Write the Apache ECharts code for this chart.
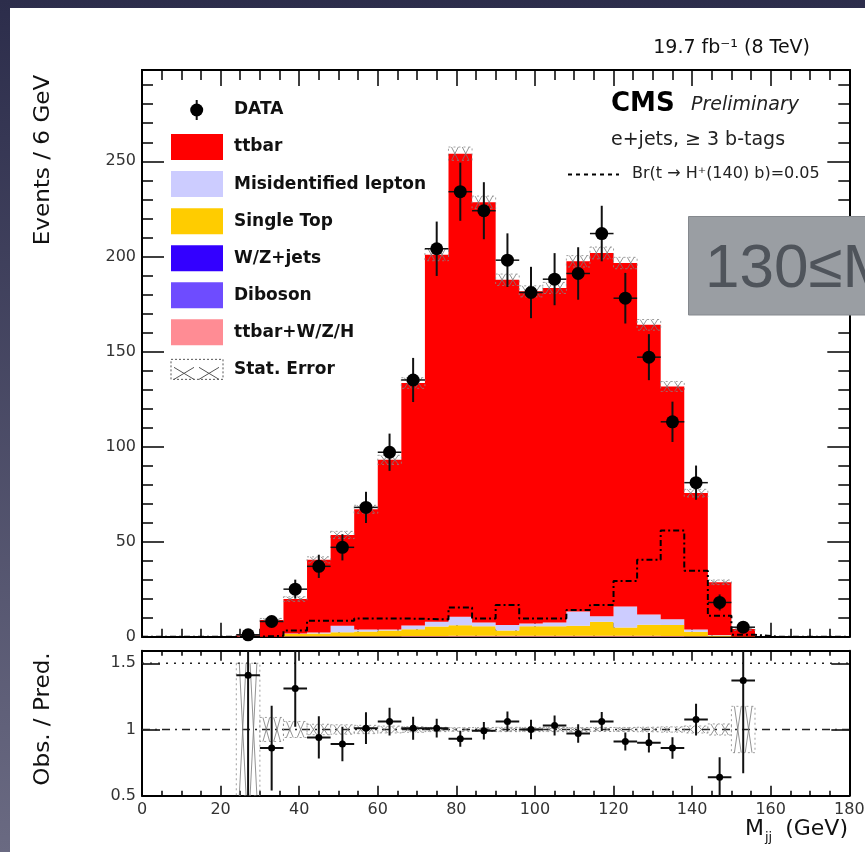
<!DOCTYPE html>
<html>
<head>
<meta charset="utf-8">
<title>Mjj, e+jets, >=3 b-tags</title>
<script src="https://cdn.jsdelivr.net/npm/echarts@6/dist/echarts.min.js"></script>
<style>
  html, body { margin: 0; padding: 0; }
  body { width: 865px; height: 852px; overflow: hidden; background: linear-gradient(#2c2d4b, #6a6a82); position: relative; }
  #panel { position: absolute; left: 10px; top: 8px; width: 855px; height: 844px; background: #fff; }
  #chart { position: absolute; left: 0; top: 0; width: 865px; height: 852px; }
</style>
</head>
<body>
<div id="panel"></div>
<div id="chart"></div>
<script>
// ---- binning (6 GeV bins from 0 to 180 GeV) ----
const binLow = [0, 6, 12, 18, 24, 30, 36, 42, 48, 54, 60, 66, 72, 78, 84, 90, 96, 102, 108, 114, 120, 126, 132, 138, 144, 150, 156, 162, 168, 174];
const BIN_WIDTH = 6;

// ---- simulated backgrounds, events per bin ----
const ttbar       = [0, 0, 0, 0, 0.7, 8.8, 18.1, 38.2, 47.7, 63.2, 89.2, 127.5, 193.1, 243.5, 220.9, 181.6, 174.6, 175.9, 184.1, 191.1, 180.6, 152.3, 122.4, 71.7, 27.7, 3.9, 0, 0, 0, 0];
const misidLepton = [0, 0, 0, 0, 0, 0, 0.3, 0.5, 3.5, 1.0, 0.5, 2.0, 2.4, 4.5, 2.0, 2.8, 1.5, 2.0, 7.5, 2.8, 11.0, 5.4, 3.0, 1.2, 0.3, 0, 0, 0, 0, 0];
const singleTop   = [0, 0, 0, 0, 0, 0, 1.2, 1.5, 2.0, 2.5, 3.0, 3.5, 5.0, 5.5, 5.0, 2.8, 5.0, 5.0, 5.3, 7.4, 4.4, 5.8, 5.8, 2.3, 0.5, 0.1, 0, 0, 0, 0];
const wzJets      = [0, 0, 0, 0, 0, 0, 0, 0, 0, 0, 0, 0, 0, 0, 0, 0, 0, 0, 0, 0, 0, 0, 0, 0, 0, 0, 0, 0, 0, 0];
const diboson     = [0, 0, 0, 0, 0, 0, 0, 0, 0, 0, 0, 0, 0, 0, 0, 0, 0, 0, 0, 0, 0, 0, 0, 0, 0, 0, 0, 0, 0, 0];
const ttbarVH     = [0, 0, 0, 0, 0, 0, 0.2, 0.2, 0.3, 0.3, 0.3, 0.4, 0.4, 0.5, 0.5, 0.5, 0.5, 0.5, 0.5, 0.5, 0.5, 0.5, 0.4, 0.3, 0.1, 0, 0, 0, 0, 0];
const mcStatErr   = [0, 0, 0, 0, 0.35, 0.8, 1.2, 1.6, 1.9, 2.1, 2.4, 2.8, 3.2, 3.5, 3.3, 3.0, 2.9, 2.9, 3.0, 3.1, 3.0, 2.8, 2.6, 2.0, 1.2, 0.7, 0, 0, 0, 0];

// ---- signal hypothesis Br(t -> H+(140) b) = 0.05 ----
const signalBr005 = [0, 0, 0, 0, 0, 0.5, 3.2, 8.4, 8.4, 9.6, 9.6, 9.4, 9.1, 15.3, 9.6, 16.7, 9.6, 9.6, 14.0, 16.7, 29.3, 40.4, 55.8, 34.7, 11.0, 1.0, 0, 0, 0, 0];

// ---- observed data ----
const dataCounts = [null, null, null, null, 1, 8, 25, 37, 47, 68, 97, 135, 204, 234, 224, 198, 181, 188, 191, 212, 178, 147, 113, 81, 18, 5, null, null, null, null];
const dataErr    = [null, null, null, null, 1.0, 2.8, 5.0, 6.1, 6.9, 8.2, 9.8, 11.6, 14.3, 15.3, 15.0, 14.1, 13.5, 13.7, 13.8, 14.6, 13.3, 12.1, 10.6, 9.0, 4.2, 2.2, null, null, null, null];

// ---- observed / predicted ----
const ratio    = [null, null, null, null, 1.41, 0.86, 1.31, 0.94, 0.89, 1.01, 1.06, 1.01, 1.01, 0.93, 0.99, 1.06, 1.00, 1.03, 0.97, 1.06, 0.91, 0.90, 0.86, 1.075, 0.64, 1.37, null, null, null, null];
const ratioErr = [null, null, null, null, 1.4, 0.32, 0.29, 0.16, 0.13, 0.12, 0.105, 0.087, 0.071, 0.06, 0.066, 0.075, 0.074, 0.075, 0.07, 0.072, 0.068, 0.074, 0.081, 0.12, 0.15, 0.7, null, null, null, null];

// ---- axis tick labels ----
const xTickLabels      = [0, 20, 40, 60, 80, 100, 120, 140, 160, 180];
const eventsTickLabels = [0, 50, 100, 150, 200, 250];
const ratioTickLabels  = [0.5, 1, 1.5];

// ---- legend entries ----
const legendNames = ['DATA', 'ttbar', 'Misidentified lepton', 'Single Top', 'W/Z+jets', 'Diboson', 'ttbar+W/Z/H', 'Stat. Error'];

const COLORS = {
  ttbar: '#ff0000', misid: '#ccccff', singleTop: '#ffcc00',
  wz: '#3300ff', diboson: '#6e4cff', ttv: '#ff8c94'
};

// stacking order, bottom to top
const layers = [
  { vals: ttbarVH, color: COLORS.ttv },
  { vals: wzJets, color: COLORS.wz },
  { vals: diboson, color: COLORS.diboson },
  { vals: singleTop, color: COLORS.singleTop },
  { vals: misidLepton, color: COLORS.misid },
  { vals: ttbar, color: COLORS.ttbar }
];
const cumulative = [];
{
  let run = binLow.map(() => 0);
  layers.forEach(l => {
    const lower = run.slice();
    const upper = run.map((v, i) => v + l.vals[i]);
    cumulative.push({ lower, upper, color: l.color });
    run = upper;
  });
}
const mcTotal = cumulative[cumulative.length - 1].upper;

const FONT = 'DejaVu Sans';
const BLACK = '#000';

// ---- series ----
const series = [];

// stacked background histograms, each drawn as one step polygon
cumulative.forEach(layer => {
  series.push({
    type: 'custom', xAxisIndex: 0, yAxisIndex: 0, z: 2, silent: true,
    data: [[0, 0]],
    renderItem: (params, api) => {
      const top = [], bottom = [];
      binLow.forEach((x0, i) => {
        const x1 = x0 + BIN_WIDTH;
        top.push(api.coord([x0, layer.upper[i]]), api.coord([x1, layer.upper[i]]));
        bottom.push(api.coord([x0, layer.lower[i]]), api.coord([x1, layer.lower[i]]));
      });
      bottom.reverse();
      return { type: 'polygon', shape: { points: top.concat(bottom) }, style: { fill: layer.color } };
    }
  });
});

// MC statistical uncertainty boxes
function statBox(api, x0, x1, lo, hi) {
  const p0 = api.coord([x0, hi]);
  const p1 = api.coord([x1, lo]);
  const w = p1[0] - p0[0], h = p1[1] - p0[1];
  const mid = p0[0] + w / 2;
  const st = { stroke: '#777', lineWidth: 0.8, fill: null };
  return [
    { type: 'rect', shape: { x: p0[0], y: p0[1], width: w, height: h }, style: { stroke: '#888', lineWidth: 0.8, lineDash: [2, 3], fill: null } },
    { type: 'line', shape: { x1: p0[0] + 3, y1: p0[1], x2: mid - 2, y2: p1[1] }, style: st },
    { type: 'line', shape: { x1: mid - 2, y1: p0[1], x2: p0[0] + 3, y2: p1[1] }, style: st },
    { type: 'line', shape: { x1: mid + 2, y1: p0[1], x2: p1[0] - 3, y2: p1[1] }, style: st },
    { type: 'line', shape: { x1: p1[0] - 3, y1: p0[1], x2: mid + 2, y2: p1[1] }, style: st }
  ];
}
series.push({
  type: 'custom', xAxisIndex: 0, yAxisIndex: 0, z: 3, silent: true,
  data: binLow.map((x, i) => [x, mcTotal[i], mcStatErr[i]]).filter(d => d[1] > 0),
  renderItem: (params, api) => {
    const x0 = api.value(0), v = api.value(1), e = api.value(2);
    return { type: 'group', children: statBox(api, x0, x0 + BIN_WIDTH, Math.max(0, v - e), v + e) };
  }
});

// signal step histogram
series.push({
  type: 'line', xAxisIndex: 0, yAxisIndex: 0, z: 4, silent: true,
  step: 'end', symbol: 'none',
  lineStyle: { color: BLACK, width: 2, type: [6, 3, 2, 3] },
  data: binLow.map((x, i) => [x, signalBr005[i]]).concat([[180, 0]])
});

// data points with error bars (top panel)
series.push({
  type: 'custom', xAxisIndex: 0, yAxisIndex: 0, z: 5, silent: true,
  data: binLow.map((x, i) => [x + BIN_WIDTH / 2, dataCounts[i], dataErr[i]]).filter(d => d[1] !== null),
  renderItem: (params, api) => {
    const xc = api.value(0), v = api.value(1), e = api.value(2);
    const c = api.coord([xc, v]);
    const lo = api.coord([xc, Math.max(0, v - e)]);
    const hi = api.coord([xc, v + e]);
    const l = api.coord([xc - BIN_WIDTH / 2, v]);
    const r = api.coord([xc + BIN_WIDTH / 2, v]);
    return { type: 'group', children: [
      { type: 'line', shape: { x1: c[0], y1: lo[1], x2: c[0], y2: hi[1] }, style: { stroke: '#111', lineWidth: 2 } },
      { type: 'line', shape: { x1: l[0], y1: c[1], x2: r[0], y2: c[1] }, style: { stroke: '#111', lineWidth: 1.5 } },
      { type: 'circle', shape: { cx: c[0], cy: c[1], r: 6.5 }, style: { fill: BLACK } }
    ] };
  }
});

// reference lines in the ratio panel
series.push({
  type: 'custom', xAxisIndex: 2, yAxisIndex: 4, z: 2, silent: true,
  data: [[0, 1]],
  renderItem: (params, api) => {
    const a15 = api.coord([0, 1.5]), b15 = api.coord([180, 1.5]);
    const a1 = api.coord([0, 1]), b1 = api.coord([180, 1]);
    return { type: 'group', children: [
      { type: 'line', shape: { x1: a15[0], y1: a15[1], x2: b15[0], y2: b15[1] }, style: { stroke: '#222', lineWidth: 1.5, lineDash: [2, 6] } },
      { type: 'line', shape: { x1: a1[0], y1: a1[1], x2: b1[0], y2: b1[1] }, style: { stroke: '#222', lineWidth: 1.5, lineDash: [8, 5, 2, 5] } }
    ] };
  }
});

// MC statistical uncertainty in the ratio panel
series.push({
  type: 'custom', xAxisIndex: 2, yAxisIndex: 4, z: 3, silent: true, clip: true,
  data: binLow.map((x, i) => [x, mcTotal[i], mcStatErr[i]]).filter(d => d[1] > 0),
  renderItem: (params, api) => {
    const x0 = api.value(0), rel = api.value(2) / api.value(1);
    return { type: 'group', children: statBox(api, x0, x0 + BIN_WIDTH, 1 - rel, 1 + rel) };
  }
});

// ratio points
series.push({
  type: 'custom', xAxisIndex: 2, yAxisIndex: 4, z: 5, silent: true, clip: true,
  data: binLow.map((x, i) => [x + BIN_WIDTH / 2, ratio[i], ratioErr[i]]).filter(d => d[1] !== null),
  renderItem: (params, api) => {
    const xc = api.value(0), v = api.value(1), e = api.value(2);
    const c = api.coord([xc, v]);
    const lo = api.coord([xc, v - e]);
    const hi = api.coord([xc, v + e]);
    const l = api.coord([xc - BIN_WIDTH / 2, v]);
    const r = api.coord([xc + BIN_WIDTH / 2, v]);
    const st = { stroke: '#111', lineWidth: 2 };
    return { type: 'group', children: [
      { type: 'line', shape: { x1: c[0], y1: lo[1], x2: c[0], y2: hi[1] }, style: st },
      { type: 'line', shape: { x1: l[0], y1: c[1], x2: r[0], y2: c[1] }, style: st },
      { type: 'circle', shape: { cx: c[0], cy: c[1], r: 3.5 }, style: { fill: BLACK } }
    ] };
  }
});

// ---- axes ----
const frameLine = { show: true, onZero: false, lineStyle: { color: BLACK, width: 2 } };
const tickStyle = { color: BLACK, width: 1.5 };
const labelStyle = { fontFamily: FONT, fontSize: 16, color: '#333' };

function xAxis(gridIndex, position, major, minor, labels) {
  return {
    type: 'value', gridIndex, position, min: 0, max: 180, interval: 20,
    axisLine: frameLine,
    axisTick: { show: true, inside: true, length: major, lineStyle: tickStyle },
    minorTick: { show: true, splitNumber: 4, length: minor, lineStyle: tickStyle },
    splitLine: { show: false }, minorSplitLine: { show: false },
    axisLabel: labels ? Object.assign({ show: true, margin: 6,
      formatter: v => xTickLabels.includes(v) ? String(v) : '' }, labelStyle) : { show: false }
  };
}
function yAxis(gridIndex, position, min, max, interval, tickLen, labelList) {
  return {
    type: 'value', gridIndex, position, min, max, interval,
    axisLine: frameLine,
    axisTick: { show: true, inside: true, length: tickLen, lineStyle: tickStyle },
    splitLine: { show: false },
    axisLabel: labelList ? Object.assign({ show: true, margin: 6, showMaxLabel: false,
      formatter: v => labelList.includes(v) ? String(v) : '' }, labelStyle) : { show: false }
  };
}

const option = {
  backgroundColor: 'transparent',
  animation: false,
  grid: [
    { left: 142, top: 70, right: 15.7, height: 566.7, outerBoundsMode: 'none' },
    { left: 142, top: 650.7, right: 15.7, height: 145, outerBoundsMode: 'none' }
  ],
  xAxis: [
    xAxis(0, 'bottom', 14, 8, false),
    xAxis(0, 'top', 16, 10, false),
    xAxis(1, 'bottom', 10, 5, true),
    xAxis(1, 'top', 10, 5, false)
  ],
  yAxis: [
    yAxis(0, 'left', 0, 298, 50, 22, eventsTickLabels),
    yAxis(0, 'left', 0, 298, 10, 11, null),
    yAxis(0, 'right', 0, 298, 50, 22, null),
    yAxis(0, 'right', 0, 298, 10, 11, null),
    yAxis(1, 'left', 0.5, 1.595, 0.5, 18, ratioTickLabels),
    yAxis(1, 'right', 0.5, 1.595, 0.5, 18, null)
  ],
  series,
  graphic: []
};

// ---- texts and legend ----
const g = option.graphic;
function txt(text, x, y, opts) {
  g.push(Object.assign({ type: 'text', z: 100, x, y,
    style: Object.assign({ text, fill: BLACK, fontFamily: FONT, fontSize: 16, align: 'left', verticalAlign: 'middle' }, opts.style || {}) },
    opts.el || {}));
}

// luminosity label
txt('19.7 fb\u207B\u00B9 (8 TeV)', 810, 48, { style: { fontSize: 19, align: 'right', fill: '#111' } });

// axis titles
txt('Events / 6 GeV', 44, 160, { style: { fontSize: 21, align: 'center', fill: '#111' }, el: { rotation: Math.PI / 2, scaleX: 1.1 } });
txt('Obs. / Pred.', 44, 719, { style: { fontSize: 21, align: 'center', fill: '#111' }, el: { rotation: Math.PI / 2, scaleX: 1.1 } });
txt('M', 745, 829, { style: { fontSize: 22, fill: '#111' } });
txt('jj', 765, 838, { style: { fontSize: 13, fill: '#111' } });
txt('(GeV)', 848, 829, { style: { fontSize: 22, align: 'right', fill: '#111' } });

// experiment labels
txt('CMS', 611, 104, { style: { fontSize: 26, fontWeight: 'bold' } });
txt('Preliminary', 691, 105, { style: { fontSize: 19, fontStyle: 'italic', fill: '#222' } });
txt('e+jets, \u2265 3 b-tags', 611, 140, { style: { fontSize: 19, fill: '#222' } });
g.push({ type: 'line', z: 100, shape: { x1: 568, y1: 174.5, x2: 619, y2: 174.5 }, style: { stroke: BLACK, lineWidth: 2, lineDash: [4, 4] } });
txt('Br(t \u2192 H\u207A(140) b)=0.05', 632, 174, { style: { fontSize: 16, fill: '#222' } });

// legend
const rowY = k => 110 + 37.05 * k;
const boxColors = [COLORS.ttbar, COLORS.misid, COLORS.singleTop, COLORS.wz, COLORS.diboson, COLORS.ttv];
legendNames.forEach((name, k) => {
  const y = rowY(k);
  if (k === 0) {
    g.push({ type: 'line', z: 100, shape: { x1: 196.7, y1: y - 10, x2: 196.7, y2: y + 10 }, style: { stroke: '#111', lineWidth: 2 } });
    g.push({ type: 'circle', z: 100, shape: { cx: 196.7, cy: y, r: 6.5 }, style: { fill: BLACK } });
  } else if (k <= 6) {
    g.push({ type: 'rect', z: 100, shape: { x: 171, y: y - 13, width: 52, height: 26 }, style: { fill: boxColors[k - 1] } });
  } else {
    g.push({ type: 'rect', z: 100, shape: { x: 171, y: y - 10, width: 52, height: 20 }, style: { fill: null, stroke: '#555', lineWidth: 1, lineDash: [2, 2] } });
    [[174, 194], [199, 219]].forEach(([a, b]) => {
      g.push({ type: 'line', z: 100, shape: { x1: a, y1: y - 2, x2: b, y2: y + 10 }, style: { stroke: '#555', lineWidth: 1 } });
      g.push({ type: 'line', z: 100, shape: { x1: b, y1: y - 2, x2: a, y2: y + 10 }, style: { stroke: '#555', lineWidth: 1 } });
    });
  }
  txt(name, 234, y, { style: { fontSize: 17, fontWeight: 'bold', fill: '#111' } });
});

// mass window tag
g.push({ type: 'rect', z: 110, shape: { x: 688.5, y: 216.5, width: 200, height: 98.5 }, style: { fill: '#9a9ea3', stroke: '#85898e', lineWidth: 1 } });
txt('130\u2264M', 705, 270, { style: { fontSize: 62, fontFamily: 'Liberation Sans', fill: '#4f545b' } });
g[g.length - 1].z = 111;

const chart = echarts.init(document.getElementById('chart'), null, { renderer: 'canvas' });
chart.setOption(option);
</script>
</body>
</html>
